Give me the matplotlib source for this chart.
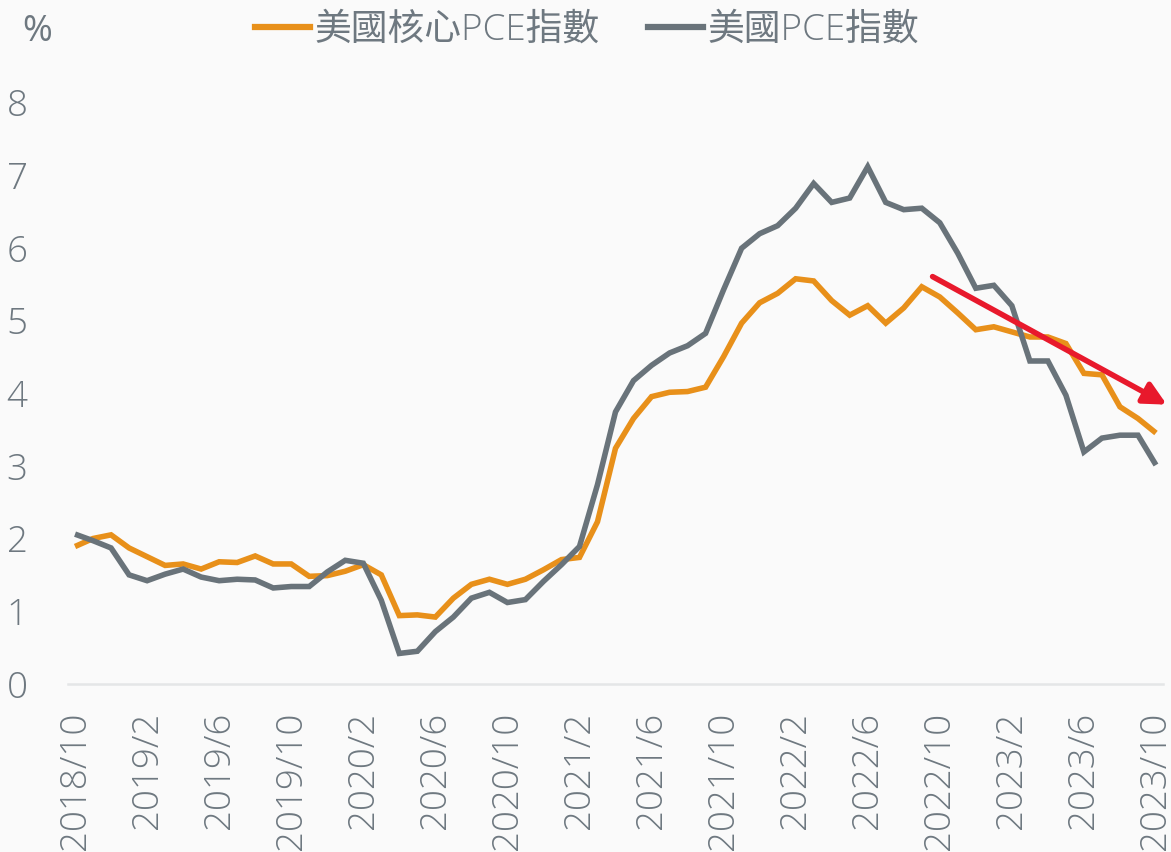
import numpy as np
import matplotlib
matplotlib.use("Agg")
import matplotlib.pyplot as plt
from matplotlib.lines import Line2D

# ---- data ----
tick_labels = ["2018/10", "2019/2", "2019/6", "2019/10", "2020/2", "2020/6", "2020/10",
               "2021/2", "2021/6", "2021/10", "2022/2", "2022/6", "2022/10", "2023/2",
               "2023/6", "2023/10"]
core_pce = [1.89, 2.00, 2.05, 1.87, 1.75, 1.63, 1.65, 1.58, 1.68, 1.67, 1.76, 1.65, 1.65,
            1.48, 1.49, 1.55, 1.64, 1.50, 0.94, 0.95, 0.92, 1.18, 1.37, 1.44, 1.37, 1.44,
            1.57, 1.71, 1.74, 2.23, 3.24, 3.65, 3.95, 4.01, 4.02, 4.08, 4.50, 4.96, 5.24,
            5.37, 5.57, 5.54, 5.27, 5.07, 5.20, 4.96, 5.17, 5.46, 5.32, 5.10, 4.87, 4.91,
            4.84, 4.77, 4.77, 4.68, 4.27, 4.25, 3.81, 3.65, 3.45]
pce = [2.06, 1.97, 1.87, 1.50, 1.42, 1.51, 1.58, 1.47, 1.42, 1.44, 1.43, 1.32, 1.34,
       1.34, 1.54, 1.70, 1.66, 1.15, 0.42, 0.45, 0.72, 0.92, 1.18, 1.26, 1.12, 1.16,
       1.41, 1.64, 1.89, 2.74, 3.74, 4.17, 4.38, 4.55, 4.65, 4.82, 5.42, 5.99, 6.19,
       6.30, 6.54, 6.88, 6.62, 6.68, 7.11, 6.62, 6.52, 6.54, 6.34, 5.92, 5.44, 5.48,
       5.20, 4.44, 4.44, 3.97, 3.19, 3.38, 3.42, 3.42, 3.01]
series_names = ["美國核心PCE指數", "美國PCE指數"]
arrow_start = (47.6, 5.60)
arrow_end = (60.6, 3.84)

# ---- style ----
ORANGE = "#E8901A"
GRAY = "#69737A"
RED = "#E8192C"
TXT = "#6E7880"
BG = "#FAFAFA"
FAM = ["Open Sans", "Noto Sans CJK TC", "DejaVu Sans"]
plt.rcParams["font.family"] = FAM
plt.rcParams["font.weight"] = "light"

fig = plt.figure(figsize=(11.71, 8.52), dpi=100, facecolor=BG)
ax = fig.add_axes([68 / 1171, 168 / 852, 1095 / 1171, 582 / 852], facecolor=BG)

x = np.arange(len(core_pce))
ax.plot(x, core_pce, color=ORANGE, lw=4.0, solid_joinstyle="miter", solid_capstyle="butt")
ax.plot(x, pce, color=GRAY, lw=4.0, solid_joinstyle="miter", solid_capstyle="butt")

ax.annotate("", xy=arrow_end, xytext=arrow_start,
            arrowprops=dict(arrowstyle="-|>", color=RED, lw=4.0, mutation_scale=34,
                            shrinkA=0, shrinkB=0),
            annotation_clip=False)

ax.set_xlim(-0.39, 60.39)
ax.set_ylim(0, 8)
ax.set_yticks(range(0, 9))
ax.set_yticklabels([str(v) for v in range(0, 9)])
ax.set_xticks(np.arange(0, len(core_pce), 4))
ax.set_xticklabels(tick_labels, rotation=90, ha="center", va="top")

for s in ["top", "right", "left"]:
    ax.spines[s].set_visible(False)
ax.spines["bottom"].set_color("#E4E6E7")
ax.spines["bottom"].set_linewidth(1.8)
ax.tick_params(axis="both", length=0, labelsize=26.5, colors=TXT)
ax.tick_params(axis="y", pad=29)
ax.tick_params(axis="x", pad=20)
for lab in ax.get_xticklabels() + ax.get_yticklabels():
    lab.set_fontweight("light")

fig.text(22 / 1171, 1 - 32 / 852, "%", fontsize=26, color=TXT, va="center", ha="left",
         fontweight="normal")

handles = [Line2D([0], [0], color=ORANGE, lw=4.5),
           Line2D([0], [0], color=GRAY, lw=4.5)]
leg = fig.legend(handles, series_names, loc="center", bbox_to_anchor=(587 / 1171, 1 - 30 / 852),
                 ncol=2, frameon=False, handlelength=1.5, handletextpad=0.12,
                 columnspacing=1.3, prop=dict(family=FAM, size=26.5, weight="light"))
for t in leg.get_texts():
    t.set_color(TXT)

fig.savefig("out.png", dpi=100, facecolor=BG)
